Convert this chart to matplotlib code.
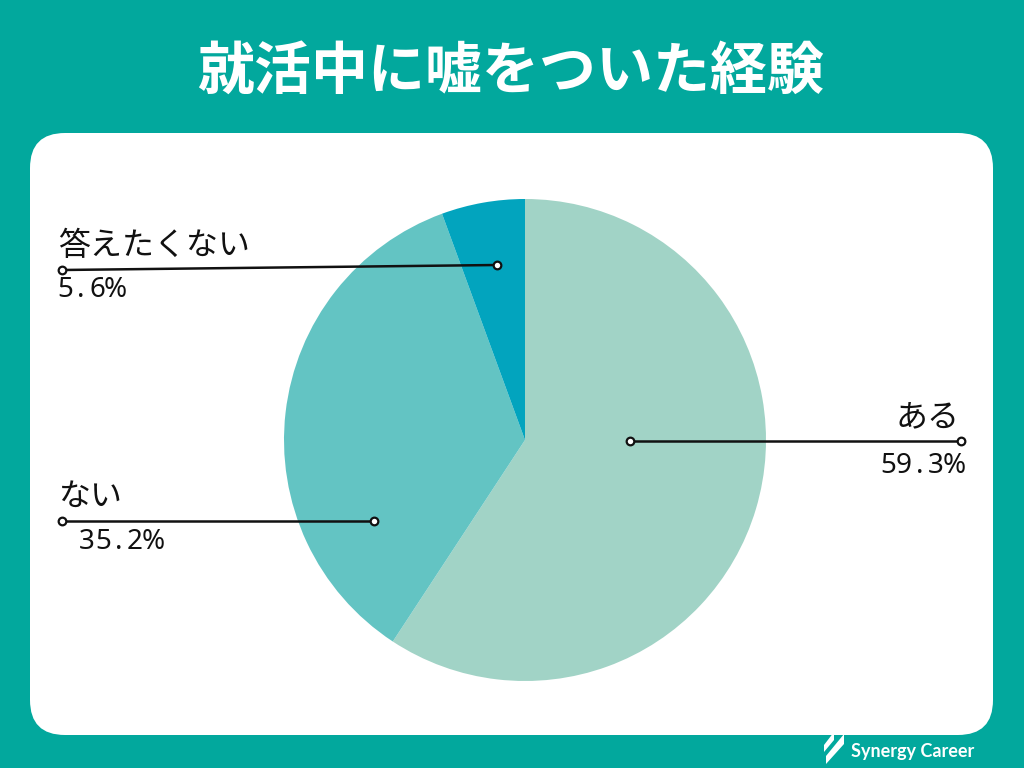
import matplotlib
matplotlib.use("Agg")
import matplotlib.pyplot as plt
from matplotlib.patches import FancyBboxPatch, Polygon

# Survey data
categories = ["ある", "ない", "答えたくない"]
shares = [59.3, 35.2, 5.6]
title = "就活中に嘘をついた経験"
brand = "Synergy Career"

BG = "#02A89D"
slice_colors = ["#A1D3C6", "#63C4C3", "#02A4BE"]
INK = "#111111"
JP = ["Noto Sans CJK JP", "DejaVu Sans"]

W, H = 1024, 768
fig = plt.figure(figsize=(W / 100, H / 100), dpi=100)
fig.patch.set_facecolor(BG)

# Backdrop layer in pixel coordinates
bg = fig.add_axes([0, 0, 1, 1])
bg.set_xlim(0, W)
bg.set_ylim(H, 0)
bg.axis("off")
card = FancyBboxPatch((30 + 35, 133 + 35), 963 - 70, 602 - 70,
                      boxstyle="round,pad=35", fc="white", ec="none")
bg.add_patch(card)
bg.text(511, 72, title, ha="center", va="center", color="white",
        fontsize=41, fontweight="bold", family=JP)

# Brand mark
bg.add_patch(Polygon([(824, 752), (834, 740), (834, 732), (824, 745)],
                     closed=True, fc="white", ec="none"))
bg.add_patch(Polygon([(826, 764), (844, 744), (844, 734), (826, 756)],
                     closed=True, fc="white", ec="none"))
bg.text(851, 752, brand, ha="left", va="center", color="white",
        fontsize=13, fontweight="bold", family=["Lato"])

# Pie chart
cx, cy, r = 525, 440, 241
pie_ax = fig.add_axes([(cx - r) / W, (H - cy - r) / H, 2 * r / W, 2 * r / H])
pie_ax.pie(shares, colors=slice_colors, startangle=90, counterclock=False,
           radius=1, wedgeprops=dict(linewidth=0))
pie_ax.set_xlim(-1, 1)
pie_ax.set_ylim(-1, 1)
pie_ax.axis("off")

# Leader lines and labels, drawn on a top overlay
ov = fig.add_axes([0, 0, 1, 1], zorder=5)
ov.set_xlim(0, W)
ov.set_ylim(H, 0)
ov.axis("off")
ov.patch.set_alpha(0)


def spaced_text(ax, x, y, s, ha, adv=16.0, **kw):
    """Draw a string with wide, even letter spacing."""
    widths = [20.0 if ch == "%" else adv for ch in s]
    start = x - sum(widths) if ha == "right" else x
    for ch, w in zip(s, widths):
        ax.text(start + w / 2, y, ch, ha="center", va="center", **kw)
        start += w


leaders = [
    # (start, end, name pos, name ha, pct pos, pct ha)
    ((630, 441), (961, 441), (960, 418), "right", (964, 466), "right"),
    ((374, 521), (62, 521), (58, 497), "left", (79, 542), "left"),
    ((497, 265), (62, 270), (58, 246), "left", (57, 290), "left"),
]

for name, val, (p0, p1, npos, nha, ppos, pha) in zip(categories, shares, leaders):
    ov.plot([p0[0], p1[0]], [p0[1], p1[1]], color=INK, lw=1.8,
            solid_capstyle="butt")
    ov.plot([p0[0], p1[0]], [p0[1], p1[1]], "o", ms=5.5, mfc="white",
            mec=INK, mew=1.6)
    ov.text(npos[0], npos[1], name, ha=nha, va="center", fontsize=23,
            color=INK, family=JP)
    spaced_text(ov, ppos[0], ppos[1], f"{val:.1f}%", pha,
                fontsize=20, color=INK, family=["Noto Sans"])

fig.savefig("out.png", dpi=100, facecolor=BG)
